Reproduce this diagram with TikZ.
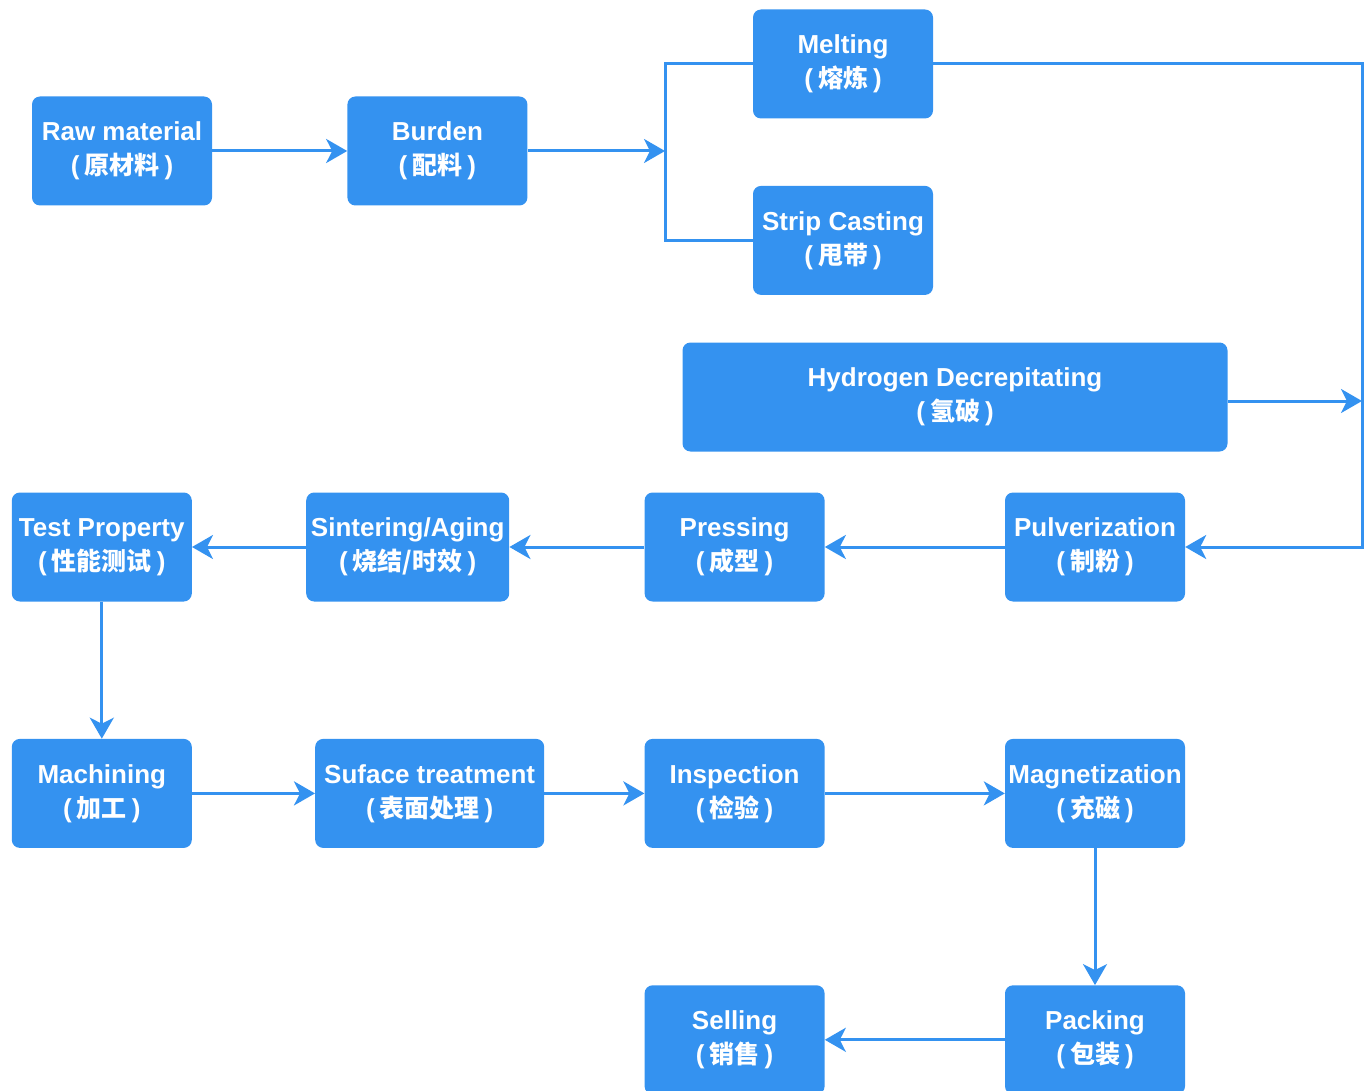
\documentclass[tikz,border=0pt]{standalone}
\usepackage{fontspec}
\setmainfont{Liberation Sans}
\newfontfamily\cjk{Noto Sans CJK SC}
\usetikzlibrary{positioning,arrows.meta}
\definecolor{flowblue}{RGB}{52,146,240}
\newcommand{\stage}[2]{#1\\[3pt]({\hspace{5pt}\cjk\bfseries\fontsize{25}{31}\selectfont #2\hspace{5pt}})}

\begin{document}
\begin{tikzpicture}[x=1pt,y=-1pt,>={Stealth[length=21pt,width=24pt,inset=6pt]},
  stagebox/.style={rectangle,rounded corners=8pt,fill=flowblue,text=white,
    font=\fontsize{26}{31}\selectfont\bfseries,align=center,inner sep=0pt,
    minimum width=180pt,minimum height=109pt},
  flow/.style={draw=flowblue,line width=3pt}]
\useasboundingbox (0,0) rectangle (1365,1091);
% top row
\node[stagebox] (raw) at (122,151) {\stage{Raw material}{原材料}};
\node[stagebox] (burden) [right=135pt of raw] {\stage{Burden}{配料}};
\node[stagebox] (melt) at (843,64) {\stage{Melting}{熔炼}};
\node[stagebox] (strip) [below=67pt of melt] {\stage{Strip Casting}{甩带}};
\node[stagebox,minimum width=545pt] (hydro) at (955,397) {\stage{Hydrogen Decrepitating}{氢破}};
% middle row
\node[stagebox] (pulv) at (1095,547) {\stage{Pulverization}{制粉}};
\node[stagebox] (press) [left=180pt of pulv] {\stage{Pressing}{成型}};
\node[stagebox,minimum width=203pt] (sinter) [left=135pt of press] {\stage{Sintering/Aging}{烧结/时效}};
\node[stagebox] (test) [left=114pt of sinter] {\stage{Test Property}{性能测试}};
% lower rows
\node[stagebox] (mach) [below=137pt of test] {\stage{Machining}{加工}};
\node[stagebox,minimum width=229pt] (surf) [right=123pt of mach] {\stage{Suface treatment}{表面处理}};
\node[stagebox] (insp) [right=100pt of surf] {\stage{Inspection}{检验}};
\node[stagebox] (magn) [right=180pt of insp] {\stage{Magnetization}{充磁}};
\node[stagebox] (pack) [below=137pt of magn] {\stage{Packing}{包装}};
\node[stagebox] (sell) [left=180pt of pack] {\stage{Selling}{销售}};
\coordinate (split) at (665,151);
\coordinate (rail) at (1362,547);
% connectors
\draw[flow,->] (raw) -- (burden);
\draw[flow,->] (burden) -- (split);
\draw[flow] (melt.west) -| (split) |- (strip.west);
\draw[flow,->] (melt.east) -| (rail) -- (pulv.east);
\draw[flow,->] ([yshift=-4pt]hydro.east) -- ([yshift=-4pt]hydro.east -| rail);
\draw[flow,->] (pulv) -- (press);
\draw[flow,->] (press) -- (sinter);
\draw[flow,->] (sinter) -- (test);
\draw[flow,->] (test) -- (mach);
\draw[flow,->] (mach) -- (surf);
\draw[flow,->] (surf) -- (insp);
\draw[flow,->] (insp) -- (magn);
\draw[flow,->] (magn) -- (pack);
\draw[flow,->] (pack) -- (sell);
\end{tikzpicture}
\end{document}
